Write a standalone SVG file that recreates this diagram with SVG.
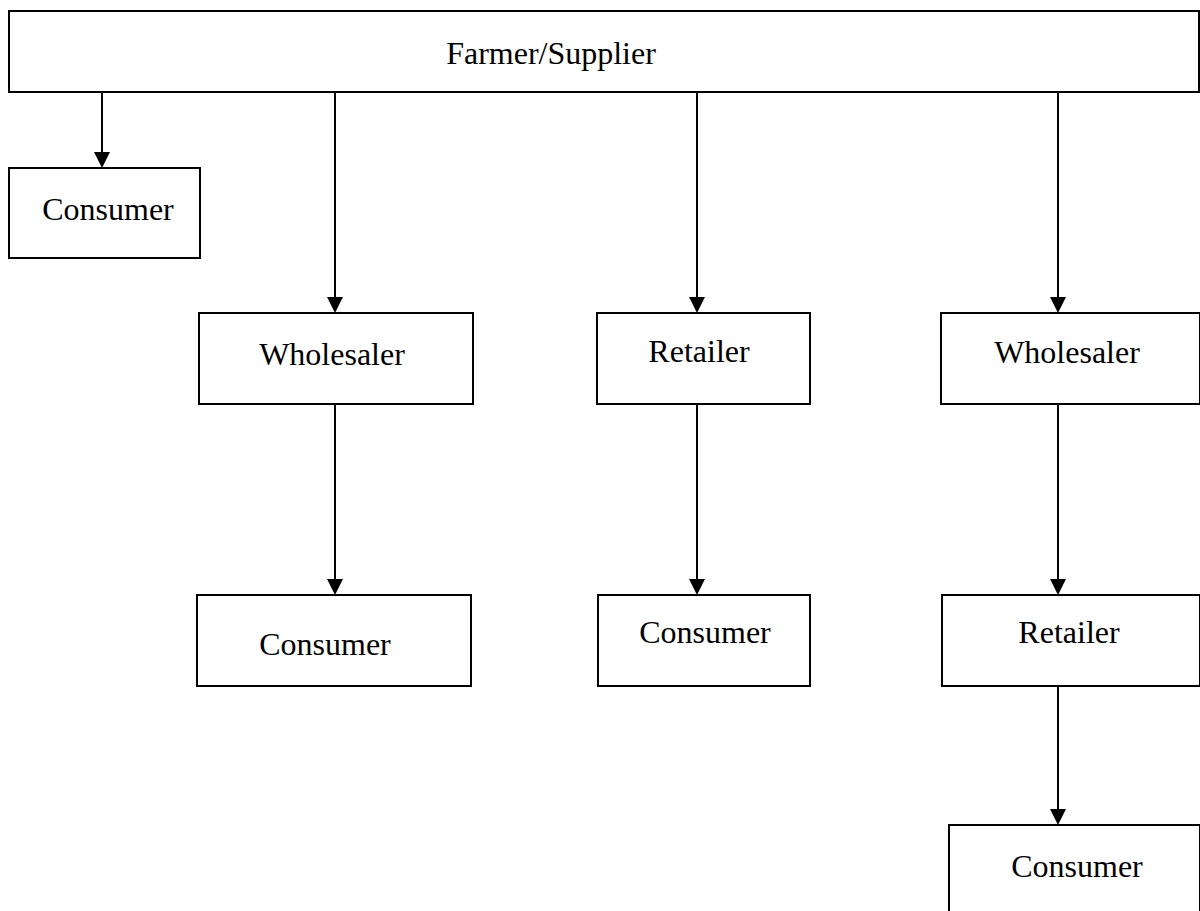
<svg xmlns="http://www.w3.org/2000/svg" width="1200" height="911" viewBox="0 0 1200 911">
<style>
.box{fill:#fff;stroke:#000;stroke-width:2}
.lbl{font-family:"Liberation Serif","Times New Roman",serif;font-size:32px;fill:#000;text-anchor:middle}
.con{stroke:#000;stroke-width:2;fill:none}
</style>
<defs>
<marker id="ah" markerUnits="userSpaceOnUse" markerWidth="16" markerHeight="16" viewBox="0 0 16 16" refX="8" refY="16" orient="auto-start-reverse">
<path d="M0,0 L16,0 L8,16 Z" fill="#000" transform="rotate(0)"/>
</marker>
</defs>
<rect width="1200" height="911" fill="#fff"/>
<g id="farmer"><rect class="box" x="9" y="11" width="1190" height="81"/><text class="lbl" x="551" y="64">Farmer/Supplier</text></g>
<g id="consumer1"><rect class="box" x="9" y="168" width="191" height="90"/><text class="lbl" x="108" y="220">Consumer</text></g>
<g id="wholesaler1"><rect class="box" x="199" y="313" width="274" height="91"/><text class="lbl" x="332" y="365">Wholesaler</text></g>
<g id="retailer1"><rect class="box" x="597" y="313" width="213" height="91"/><text class="lbl" x="699" y="362">Retailer</text></g>
<g id="wholesaler2"><rect class="box" x="941" y="313" width="259" height="91"/><text class="lbl" x="1067" y="363">Wholesaler</text></g>
<g id="consumer2"><rect class="box" x="197" y="595" width="274" height="91"/><text class="lbl" x="325" y="655">Consumer</text></g>
<g id="consumer3"><rect class="box" x="598" y="595" width="212" height="91"/><text class="lbl" x="705" y="643">Consumer</text></g>
<g id="retailer2"><rect class="box" x="942" y="595" width="258" height="91"/><text class="lbl" x="1069" y="643">Retailer</text></g>
<g id="consumer4"><rect class="box" x="949" y="825" width="251" height="100"/><text class="lbl" x="1077" y="877">Consumer</text></g>
<g id="connectors">
<line class="con" x1="102" y1="92" x2="102" y2="153"/>
<path d="M94,152 L110,152 L102,168 Z"/>
<line class="con" x1="335" y1="92" x2="335" y2="298"/>
<path d="M327,297 L343,297 L335,313 Z"/>
<line class="con" x1="697" y1="92" x2="697" y2="298"/>
<path d="M689,297 L705,297 L697,313 Z"/>
<line class="con" x1="1058" y1="92" x2="1058" y2="298"/>
<path d="M1050,297 L1066,297 L1058,313 Z"/>
<line class="con" x1="335" y1="404" x2="335" y2="580"/>
<path d="M327,579 L343,579 L335,595 Z"/>
<line class="con" x1="697" y1="404" x2="697" y2="580"/>
<path d="M689,579 L705,579 L697,595 Z"/>
<line class="con" x1="1058" y1="404" x2="1058" y2="580"/>
<path d="M1050,579 L1066,579 L1058,595 Z"/>
<line class="con" x1="1058" y1="686" x2="1058" y2="810"/>
<path d="M1050,809 L1066,809 L1058,825 Z"/>
</g>
</svg>
